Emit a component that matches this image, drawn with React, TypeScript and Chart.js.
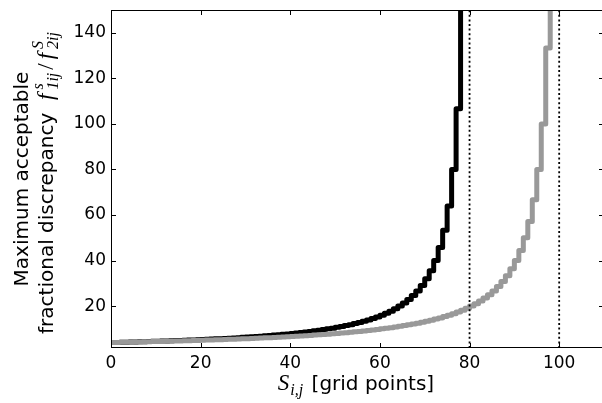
import { useEffect, useRef } from "react";
import { Chart, registerables } from "chart.js";

Chart.register(...registerables);

// S_{i,j} = index (grid points)
const blackValues = [
  4.0, 4.05, 4.1, 4.16, 4.21, 4.27, 4.32, 4.38, 4.44, 4.51,
  4.57, 4.64, 4.71, 4.78, 4.85, 4.92, 5.0, 5.08, 5.16, 5.25,
  5.33, 5.42, 5.52, 5.61, 5.71, 5.82, 5.93, 6.04, 6.15, 6.27,
  6.4, 6.53, 6.67, 6.81, 6.96, 7.11, 7.27, 7.44, 7.62, 7.8,
  8.0, 8.21, 8.42, 8.65, 8.89, 9.14, 9.41, 9.7, 10.0, 10.32,
  10.67, 11.03, 11.43, 11.85, 12.31, 12.8, 13.33, 13.91, 14.55, 15.24,
  16.0, 16.84, 17.78, 18.82, 20.0, 21.33, 22.86, 24.62, 26.67, 29.09,
  32.0, 35.56, 40.0, 45.71, 53.33, 64.0, 80.0, 106.67, 160.0,
];

const grayValues = [
  4.0, 4.04, 4.08, 4.12, 4.17, 4.21, 4.26, 4.3, 4.35, 4.4,
  4.44, 4.49, 4.55, 4.6, 4.65, 4.71, 4.76, 4.82, 4.88, 4.94,
  5.0, 5.06, 5.13, 5.19, 5.26, 5.33, 5.41, 5.48, 5.56, 5.63,
  5.71, 5.8, 5.88, 5.97, 6.06, 6.15, 6.25, 6.35, 6.45, 6.56,
  6.67, 6.78, 6.9, 7.02, 7.14, 7.27, 7.41, 7.55, 7.69, 7.84,
  8.0, 8.16, 8.33, 8.51, 8.7, 8.89, 9.09, 9.3, 9.52, 9.76,
  10.0, 10.26, 10.53, 10.81, 11.11, 11.43, 11.76, 12.12, 12.5, 12.9,
  13.33, 13.79, 14.29, 14.81, 15.38, 16.0, 16.67, 17.39, 18.18, 19.05,
  20.0, 21.05, 22.22, 23.53, 25.0, 26.67, 28.57, 30.77, 33.33, 36.36,
  40.0, 44.44, 50.0, 57.14, 66.67, 80.0, 100.0, 133.33, 200.0,
];

const limitLines = [80, 100];
const xTicks = [0, 20, 40, 60, 80, 100];
const yTicks = [20, 40, 60, 80, 100, 120, 140];
const xRange = [0, 110];
const yRange = [1.6, 150];

const SANS = '"DejaVu Sans", sans-serif';
const SERIF = '"Liberation Serif", "DejaVu Serif", serif';

type Item =
  | { t: string; font: string; dy?: number; gap?: number }
  | { sup: string; sub: string; font: string; supDy: number; subDy: number; gap?: number };

function itemWidth(ctx: CanvasRenderingContext2D, it: Item): number {
  ctx.font = it.font;
  if ("sup" in it) {
    return Math.max(ctx.measureText(it.sup).width, ctx.measureText(it.sub).width) + (it.gap || 0);
  }
  return ctx.measureText(it.t).width + (it.gap || 0);
}

function drawItems(ctx: CanvasRenderingContext2D, items: Item[], cx: number, baseline: number) {
  const total = items.reduce((s, it) => s + itemWidth(ctx, it), 0);
  let x = cx - total / 2;
  ctx.textAlign = "left";
  ctx.textBaseline = "alphabetic";
  ctx.fillStyle = "#000";
  for (const it of items) {
    ctx.font = it.font;
    if ("sup" in it) {
      ctx.fillText(it.sup, x, baseline + it.supDy);
      ctx.fillText(it.sub, x, baseline + it.subDy);
    } else {
      ctx.fillText(it.t, x, baseline + (it.dy || 0));
    }
    x += itemWidth(ctx, it);
  }
}

const framePlugin = {
  id: "frame",
  afterDatasetsDraw(chart: any) {
    const { ctx, chartArea } = chart;
    const { left, right, top, bottom } = chartArea;
    const xs = chart.scales.x;
    const ys = chart.scales.y;
    ctx.save();
    ctx.strokeStyle = "#000";
    ctx.lineWidth = 1;
    ctx.beginPath();
    ctx.rect(left + 0.5, top + 0.5, right - left - 1, bottom - top - 1);
    ctx.stroke();
    const tl = 5;
    ctx.beginPath();
    for (const v of xTicks) {
      const px = Math.round(xs.getPixelForValue(v)) + 0.5;
      ctx.moveTo(px, bottom);
      ctx.lineTo(px, bottom - tl);
      ctx.moveTo(px, top);
      ctx.lineTo(px, top + tl);
    }
    for (const v of yTicks) {
      const py = Math.round(ys.getPixelForValue(v)) + 0.5;
      ctx.moveTo(left, py);
      ctx.lineTo(left + tl, py);
      ctx.moveTo(right, py);
      ctx.lineTo(right - tl, py);
    }
    ctx.stroke();
    ctx.restore();
  },
  afterDraw(chart: any) {
    const { ctx } = chart;
    ctx.save();
    const sans = `20px ${SANS}`;
    const it = `italic 23px ${SERIF}`;
    const sc = `italic 16px ${SERIF}`;
    // x title
    drawItems(
      ctx,
      [
        { t: "S", font: it, gap: 1 },
        { t: "i,j", font: sc, dy: 5, gap: 2 },
        { t: " [grid points]", font: sans },
      ],
      356,
      390
    );
    // y title (rotated)
    ctx.save();
    ctx.translate(28, 179);
    ctx.rotate(-Math.PI / 2);
    drawItems(ctx, [{ t: "Maximum acceptable", font: sans }], 0, 0);
    ctx.restore();
    ctx.save();
    ctx.translate(53, 183);
    ctx.rotate(-Math.PI / 2);
    drawItems(
      ctx,
      [
        { t: "fractional discrepancy  ", font: sans },
        { t: "f", font: it, gap: 4 },
        { sup: "s", sub: "1ij", font: sc, supDy: -10, subDy: 5, gap: 3 },
        { t: "/", font: `23px ${SERIF}`, gap: 4 },
        { t: "f", font: it, gap: 4 },
        { sup: "S", sub: "2ij", font: sc, supDy: -10, subDy: 5 },
      ],
      0,
      0
    );
    ctx.restore();
    ctx.restore();
  },
};

export default function App() {
  const ref = useRef<HTMLCanvasElement | null>(null);

  useEffect(() => {
    const canvas = ref.current;
    if (!canvas) return;
    const chart = new Chart(canvas, {
      type: "line",
      data: {
        datasets: [
          ...limitLines.map((v) => ({
            data: [
              { x: v, y: yRange[0] },
              { x: v, y: yRange[1] },
            ],
            borderColor: "#000",
            borderWidth: 1.8,
            borderDash: [2, 2.6],
            pointRadius: 0,
            clip: 0,
          })),
          {
            data: grayValues.map((y, i) => ({ x: i, y })),
            borderColor: "#999999",
            borderWidth: 5,
            pointRadius: 0,
            stepped: true,
            borderJoinStyle: "round" as const,
            clip: 0,
          },
          {
            data: blackValues.map((y, i) => ({ x: i, y })),
            borderColor: "#000000",
            borderWidth: 5,
            pointRadius: 0,
            stepped: true,
            borderJoinStyle: "round" as const,
            clip: 0,
          },
        ],
      },
      options: {
        responsive: false,
        animation: false,
        devicePixelRatio: 1,
        layout: { padding: { top: 10, right: 2, left: 0, bottom: 0 } },
        plugins: { legend: { display: false }, tooltip: { enabled: false } },
        events: [],
        scales: {
          x: {
            type: "linear",
            min: xRange[0],
            max: xRange[1],
            grid: { display: false, drawTicks: false },
            border: { display: false },
            afterBuildTicks: (scale: any) => {
              scale.ticks = xTicks.map((v) => ({ value: v }));
            },
            afterFit: (scale: any) => {
              scale.height = 55;
              scale.paddingLeft = 0;
              scale.paddingRight = 0;
            },
            ticks: {
              color: "#000",
              padding: 5,
              maxRotation: 0,
              autoSkip: false,
              font: { family: SANS, size: 17 },
              callback: (v: any) => String(v),
            },
          },
          y: {
            type: "linear",
            min: yRange[0],
            max: yRange[1],
            grid: { display: false, drawTicks: false },
            border: { display: false },
            afterBuildTicks: (scale: any) => {
              scale.ticks = yTicks.map((v) => ({ value: v }));
            },
            afterFit: (scale: any) => {
              scale.width = 111;
              scale.paddingTop = 0;
              scale.paddingBottom = 0;
            },
            ticks: {
              color: "#000",
              padding: 5,
              autoSkip: false,
              font: { family: SANS, size: 17 },
              callback: (v: any) => String(v),
            },
          },
        },
      },
      plugins: [framePlugin],
    } as any);
    return () => chart.destroy();
  }, []);

  return (
    <div
      style={{
        position: "fixed",
        left: 0,
        top: 0,
        width: 602,
        height: 403,
        overflow: "hidden",
        background: "#fff",
      }}
    >
      <canvas ref={ref} width={606} height={403} style={{ width: 606, height: 403, display: "block" }} />
    </div>
  );
}
